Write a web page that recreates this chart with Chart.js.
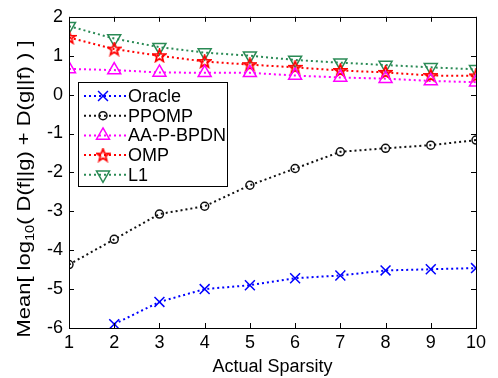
<!DOCTYPE html>
<html>
<head>
<meta charset="utf-8">
<script src="https://cdn.jsdelivr.net/npm/chart.js@4/dist/chart.umd.min.js"></script>
<style>
  html, body { margin: 0; padding: 0; background: #fff; }
  #wrap { width: 498px; height: 378px; }
</style>
</head>
<body>
<div id="wrap"><canvas id="myChart" width="498" height="378"></canvas></div>
<script>
// sparsity levels on the x axis
var sparsity = [1, 2, 3, 4, 5, 6, 7, 8, 9, 10];
var yTicks = [-6, -5, -4, -3, -2, -1, 0, 1, 2];

// mean log10 divergence per method
var oracle   = [null, -5.9, -5.33, -5.0, -4.9, -4.72, -4.65, -4.52, -4.49, -4.46];
var ppomp    = [-4.37, -3.72, -3.07, -2.87, -2.33, -1.9, -1.47, -1.38, -1.3, -1.17];
var aapbpdn  = [0.66, 0.63, 0.57, 0.56, 0.56, 0.49, 0.44, 0.41, 0.35, 0.32];
var omp      = [1.47, 1.17, 1.0, 0.85, 0.77, 0.7, 0.62, 0.57, 0.49, 0.48];
var l1       = [1.76, 1.44, 1.22, 1.08, 1.0, 0.89, 0.82, 0.76, 0.7, 0.65];

var FONT = 'Arial, "Liberation Sans", sans-serif';

// red pentagram marker
function starMarker(color){
    var c = document.createElement('canvas');
    c.width = 15; c.height = 15;
    var g = c.getContext('2d');
    g.strokeStyle = color;
    g.lineWidth = 1.8;
    g.beginPath();
    for(var i = 0; i < 10; i++){
        var r = (i % 2) ? 2.8 : 6.5;
        var a = -Math.PI / 2 + i * Math.PI / 5;
        var px = 7.5 + r * Math.cos(a), py = 7.8 + r * Math.sin(a);
        if(i === 0) g.moveTo(px, py); else g.lineTo(px, py);
    }
    g.closePath();
    g.stroke();
    return c;
}

function pts(arr){
    return arr.map(function(v, i){ return {x: sparsity[i], y: v}; });
}

function series(label, arr, color, style, radius, rotation){
    return {
        label: label,
        data: pts(arr),
        borderColor: color,
        backgroundColor: 'rgba(0,0,0,0)',
        borderWidth: 2,
        borderDash: [2, 3],
        pointStyle: style,
        pointRadius: radius,
        pointRotation: rotation || 0,
        pointBorderColor: color,
        pointBorderWidth: 1.5,
        spanGaps: false,
        tension: 0
    };
}

var datasets = [
    series('Oracle', oracle, '#0000ff', 'crossRot', 7),
    series('PPOMP', ppomp, '#111111', 'circle', 4),
    series('AA-P-BPDN', aapbpdn, '#ff00ff', 'triangle', 7.5),
    series('OMP', omp, '#ff0000', starMarker('#ff0000'), 7),
    series('L1', l1, '#2a8a55', 'triangle', 7.5, 180)
];

// MATLAB-style box with inward tick marks, custom legend and y title
var frame = {
    id: 'frame',
    afterDraw: function(chart){
        var ctx = chart.ctx, a = chart.chartArea;
        var xs = chart.scales.x, ys = chart.scales.y;
        ctx.save();
        ctx.strokeStyle = '#000';
        ctx.lineWidth = 1;
        ctx.strokeRect(Math.round(a.left) + 0.5, Math.round(a.top) + 0.5,
                       Math.round(a.right - a.left), Math.round(a.bottom - a.top));
        ctx.beginPath();
        sparsity.forEach(function(v){
            var x = Math.round(xs.getPixelForValue(v)) + 0.5;
            ctx.moveTo(x, a.bottom); ctx.lineTo(x, a.bottom - 5);
            ctx.moveTo(x, a.top); ctx.lineTo(x, a.top + 5);
        });
        yTicks.forEach(function(v){
            var y = Math.round(ys.getPixelForValue(v)) + 0.5;
            ctx.moveTo(a.left, y); ctx.lineTo(a.left + 5, y);
            ctx.moveTo(a.right, y); ctx.lineTo(a.right - 5, y);
        });
        ctx.stroke();

        // legend
        var lx = 78, ly = 82, lw = 149, lh = 104;
        ctx.fillStyle = '#fff';
        ctx.fillRect(lx, ly, lw, lh);
        ctx.strokeStyle = '#000';
        ctx.strokeRect(lx + 0.5, ly + 0.5, lw, lh);
        ctx.font = '18px ' + FONT;
        ctx.textBaseline = 'middle';
        chart.data.datasets.forEach(function(ds, i){
            var y = ly + 14 + i * 19.7;
            var mx = lx + 25;
            ctx.save();
            ctx.strokeStyle = ds.borderColor;
            ctx.lineWidth = 2;
            ctx.setLineDash([2, 3]);
            ctx.beginPath();
            ctx.moveTo(lx + 6, y); ctx.lineTo(lx + 48, y);
            ctx.stroke();
            ctx.restore();
            ctx.save();
            if(ds.pointStyle instanceof HTMLCanvasElement){
                var img = ds.pointStyle;
                ctx.drawImage(img, mx - img.width / 2, y - img.height / 2);
            } else {
                ctx.strokeStyle = ds.pointBorderColor;
                ctx.fillStyle = 'rgba(0,0,0,0)';
                ctx.lineWidth = ds.pointBorderWidth;
                Chart.helpers.drawPoint(ctx, {
                    pointStyle: ds.pointStyle,
                    radius: ds.pointRadius,
                    rotation: ds.pointRotation,
                    borderWidth: ds.pointBorderWidth
                }, mx, y);
            }
            ctx.restore();
            ctx.fillStyle = '#000';
            ctx.textAlign = 'left';
            ctx.fillText(ds.label, lx + 50, y + 1);
        });

        // y axis title with subscript, stretched along its length
        var parts = [['Mean[ log', 18, 0], ['10', 12, 6], ['( D(f||g) + D(g||f) ) ]', 18, 0]];
        var total = 0;
        parts.forEach(function(p){ ctx.font = p[1] + 'px ' + FONT; total += ctx.measureText(p[0]).width; });
        ctx.translate(25, 189);
        ctx.rotate(-Math.PI / 2);
        ctx.scale(297 / total, 1);
        ctx.textAlign = 'left';
        ctx.textBaseline = 'middle';
        var cx = -total / 2;
        parts.forEach(function(p){
            ctx.font = p[1] + 'px ' + FONT;
            ctx.fillText(p[0], cx, p[2]);
            cx += ctx.measureText(p[0]).width;
        });
        ctx.restore();
    }
};

var ctx = document.getElementById('myChart').getContext('2d');
var myChart = new Chart(ctx, {
    type: 'line',
    data: { datasets: datasets },
    options: {
        responsive: false,
        animation: false,
        layout: { padding: { top: 11, right: 22, left: 0, bottom: 0 } },
        plugins: { legend: { display: false }, tooltip: { enabled: false } },
        scales: {
            x: {
                type: 'linear',
                min: 1, max: 10,
                grid: { display: false, drawTicks: false },
                border: { display: false },
                afterBuildTicks: function(s){ s.ticks = sparsity.map(function(v){ return {value: v}; }); },
                ticks: { color: '#000', font: { size: 18, family: FONT }, padding: 4, maxRotation: 0 },
                title: { display: true, text: 'Actual Sparsity', color: '#000', font: { size: 18, family: FONT }, padding: 0 },
                afterFit: function(s){ s.height = 50; }
            },
            y: {
                type: 'linear',
                min: -6, max: 2,
                grid: { display: false, drawTicks: false },
                border: { display: false },
                afterBuildTicks: function(s){ s.ticks = yTicks.map(function(v){ return {value: v}; }); },
                ticks: { color: '#000', font: { size: 18, family: FONT }, padding: 6 },
                afterFit: function(s){ s.width = 69; }
            }
        }
    },
    plugins: [frame]
});
</script>
</body>
</html>
